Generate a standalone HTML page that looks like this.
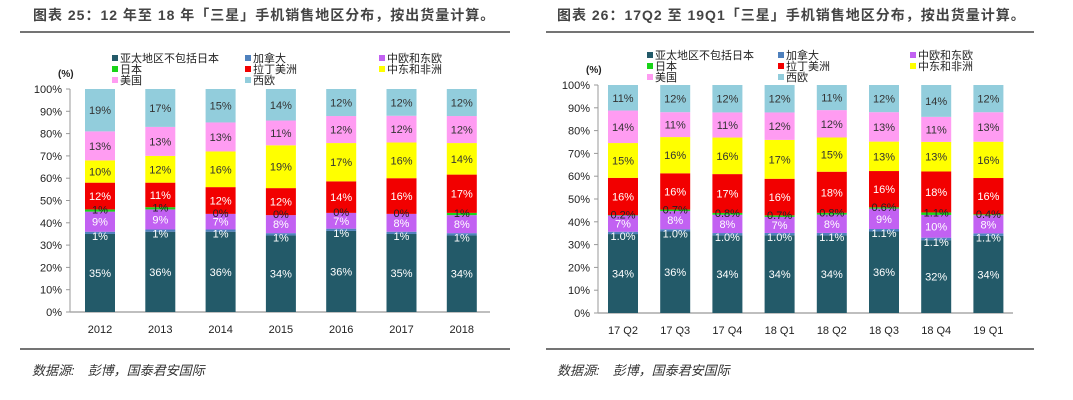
<!DOCTYPE html>
<html><head><meta charset="utf-8">
<style>
body{margin:0;background:#fff;width:1073px;height:400px;overflow:hidden;font-family:"Liberation Sans","Noto Sans CJK SC",sans-serif}
svg{position:absolute;left:0;top:0}
</style></head>
<body>
<svg id="s" width="1073" height="400">
<text x="33" y="20" font-size="14" font-weight="bold" fill="#444" letter-spacing="1">图表 25：12 年至 18 年「三星」手机销售地区分布，按出货量计算。</text>
<line x1="20" y1="32" x2="510" y2="32" stroke="#222" stroke-width="1.2"/>
<line x1="20" y1="349" x2="510" y2="349" stroke="#222" stroke-width="1.2"/>
<text x="32" y="375" font-size="13" font-style="italic" fill="#333">数据源:　彭博，国泰君安国际</text>
<text x="557" y="20" font-size="14" font-weight="bold" fill="#444" letter-spacing="1">图表 26：17Q2 至 19Q1「三星」手机销售地区分布，按出货量计算。</text>
<line x1="546" y1="32" x2="1034" y2="32" stroke="#222" stroke-width="1.2"/>
<line x1="546" y1="349" x2="1034" y2="349" stroke="#222" stroke-width="1.2"/>
<text x="557" y="375" font-size="13" font-style="italic" fill="#333">数据源:　彭博，国泰君安国际</text>
</svg>
<script>
const seriesNames=["亚太地区不包括日本","加拿大","中欧和东欧","日本","拉丁美洲","中东和非洲","美国","西欧"];
const seriesColors=["#235a69","#4f81bd","#c261f2","#19d319","#f20000","#ffff00","#ff9cf2","#92cddc"];
const labelColors=["#fff","#fff","#fff","#222","#fff","#333","#333","#333"];
const cats1=["2012","2013","2014","2015","2016","2017","2018"];
const apac1=[35,36,36,34,36,35,34];
const canada1=[1,1,1,1,1,1,1];
const cee1=[9,9,7,8,7,8,8];
const japan1=[1,1,0,0,0,0,1];
const latam1=[12,11,12,12,14,16,17];
const mea1=[10,12,16,19,17,16,14];
const us1=[13,13,13,11,12,12,12];
const weu1=[19,17,15,14,12,12,12];
const cats2=["17 Q2","17 Q3","17 Q4","18 Q1","18 Q2","18 Q3","18 Q4","19 Q1"];
const apac2=[34,36,34,34,34,36,32,34];
const canada2=[1.0,1.0,1.0,1.0,1.1,1.1,1.1,1.1];
const cee2=[7,8,8,7,8,9,10,8];
const japan2=[0.2,0.7,0.8,0.7,0.8,0.6,1.1,0.4];
const latam2=[16,16,17,16,18,16,18,16];
const mea2=[15,16,16,17,15,13,13,16];
const us2=[14,11,11,12,12,13,11,13];
const weu2=[11,12,12,12,11,12,14,12];
const yTicks=[0,10,20,30,40,50,60,70,80,90,100];
const NS="http://www.w3.org/2000/svg";
const svg=document.getElementById('s');
function mk(t,a,txt){const e=document.createElementNS(NS,t);for(const k in a)e.setAttribute(k,a[k]);if(txt!=null)e.textContent=txt;svg.appendChild(e);return e;}
function draw(o){
  const {cats,series,x0,x1,y0,y1,c0,step,bw,dec,legX,legY,id}=o;
  const ys=v=>y0-(y0-y1)*v/100;
  const xs=i=>c0+i*step;
  yTicks.forEach(t=>{
    const tx=mk('text',{x:x0-8,y:ys(t)+4,'font-size':11,'text-anchor':'end',fill:'#222'},t+'%');
    
    
    const tk=mk('line',{x1:x0-4,x2:x0,y1:ys(t),y2:ys(t),stroke:'#999'});
    
    
  });
  const ax=mk('line',{x1:x0,x2:x0,y1:y0,y2:y1,stroke:'#999'});
  
  
  const xa=mk('line',{x1:x0,x2:x1,y1:y0,y2:y0,stroke:'#aaa','stroke-width':1.5});
  
  
  const yt=mk('text',{x:x0-12,y:y1-12,'font-size':10,'font-weight':'bold',fill:'#222'},'(%)');
  
  
  const labels=[];
  cats.forEach((c,i)=>{
    const tot=series.reduce((s,a)=>s+a[i],0);
    let acc=0;
    series.forEach((arr,k)=>{
      const v=arr[i];const a=acc/tot*100,b=(acc+v)/tot*100;acc+=v;
      const r=mk('rect',{x:xs(i)-bw/2,y:ys(b),width:bw,height:Math.max(0,ys(a)-ys(b)),fill:seriesColors[k]});
      
      
      let lab;
      if(dec&&(k==1||k==3))lab=v.toFixed(1)+'%';else lab=Math.round(v)+'%';
      const off=k==1?3:(k==3?-1:0);
      labels.push([xs(i),(ys(a)+ys(b))/2+4+off,lab,k]);
    });
    const xl=mk('text',{x:xs(i),y:y0+21,'font-size':11,'text-anchor':'middle',fill:'#222'},c);
    
    
  });
  labels.forEach(([x,y,lab,k])=>{
    const l=mk('text',{x:x,y:y,'font-size':11,'text-anchor':'middle',fill:labelColors[k]},lab);
    
    
  });
  seriesNames.forEach((n,k)=>{
    const col=[0,1,2,0,1,2,0,1][k],row=Math.floor(k/3);
    const lx=legX[col],ly=legY+row*11;
    const sq=mk('rect',{x:lx,y:ly-6,width:6,height:6,fill:seriesColors[k]});
    
    
    const t=mk('text',{x:lx+8,y:ly+1,'font-size':11,fill:'#222'},n);
    
    
  });
}
draw({id:'left',cats:cats1,series:[apac1,canada1,cee1,japan1,latam1,mea1,us1,weu1],x0:70,x1:490,y0:312,y1:89,c0:100,step:60.3,bw:30,dec:false,legX:[112,245,379],legY:61});
draw({id:'right',cats:cats2,series:[apac2,canada2,cee2,japan2,latam2,mea2,us2,weu2],x0:598,x1:1013,y0:313,y1:85,c0:623,step:52.2,bw:30,dec:true,legX:[647,778,910],legY:58});
</script>
</body></html>
